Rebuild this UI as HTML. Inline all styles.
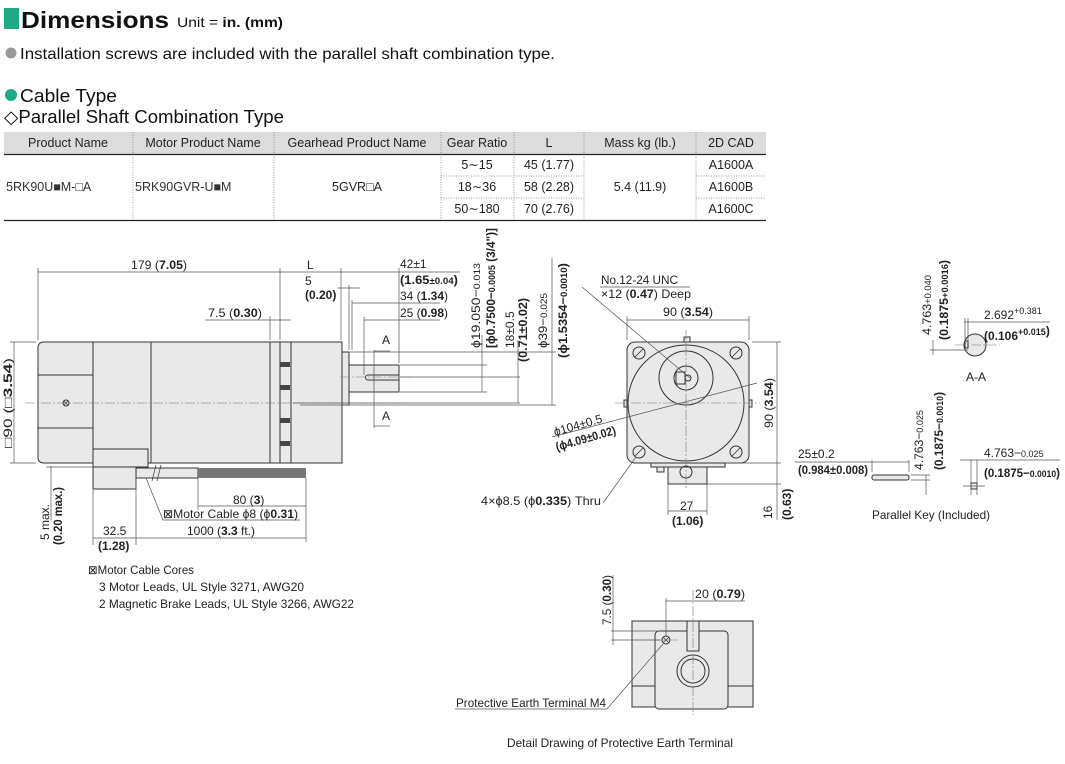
<!DOCTYPE html>
<html><head><meta charset="utf-8"><style>
html,body{margin:0;padding:0;background:#fff;}
svg{display:block;}
text{font-family:"Liberation Sans Narrow","Liberation Sans",sans-serif;fill:#222;}
.t{font-size:12px;}
.b{font-weight:bold;}
.tb{font-family:"Liberation Sans","DejaVu Sans",sans-serif;font-size:12.5px;fill:#333;}
.dim{stroke:#555;stroke-width:0.7;fill:none;}
.cl{stroke:#777;stroke-width:0.6;stroke-dasharray:10 2 2 2;fill:none;}
.o{stroke:#333;stroke-width:1;fill:#e9e9e9;}
.on{stroke:#333;stroke-width:1;fill:none;}
.dot{stroke:#777;stroke-width:0.7;stroke-dasharray:1 1.5;}
</style></head><body>
<svg width="1065" height="764" viewBox="0 0 1065 764" xmlns="http://www.w3.org/2000/svg">
<rect x="4" y="8" width="15" height="21" fill="#1faa87"/>
<text x="21" y="28" style="font-family:'Liberation Sans',sans-serif;font-size:23px;font-weight:bold;fill:#111" textLength="148" lengthAdjust="spacingAndGlyphs">Dimensions</text>
<text x="177" y="27" style="font-size:14px;fill:#111" textLength="106" lengthAdjust="spacingAndGlyphs">Unit = <tspan font-weight="bold">in. (mm)</tspan></text>
<circle cx="11" cy="53" r="5.5" fill="#999"/>
<text x="20" y="59" style="font-size:16px;fill:#111" textLength="535" lengthAdjust="spacingAndGlyphs">Installation screws are included with the parallel shaft combination type.</text>
<circle cx="11" cy="95" r="6" fill="#1faa87"/>
<text x="20" y="102" style="font-size:18px;fill:#111" textLength="97" lengthAdjust="spacingAndGlyphs">Cable Type</text>
<text x="4" y="123" style="font-size:18px;fill:#111" textLength="280" lengthAdjust="spacingAndGlyphs">◇Parallel Shaft Combination Type</text>
<rect x="4" y="132" width="762" height="22" fill="#dcdcdc"/>
<line x1="4" y1="154.5" x2="766" y2="154.5" stroke="#222" stroke-width="1.3"/>
<line x1="4" y1="220.5" x2="766" y2="220.5" stroke="#222" stroke-width="1.3"/>
<g class="dot">
<line x1="133" y1="132" x2="133" y2="220"/><line x1="274" y1="132" x2="274" y2="220"/>
<line x1="441" y1="132" x2="441" y2="220"/><line x1="514" y1="132" x2="514" y2="220"/>
<line x1="584" y1="132" x2="584" y2="220"/><line x1="696" y1="132" x2="696" y2="220"/>
<line x1="441" y1="176" x2="584" y2="176"/><line x1="441" y1="198" x2="584" y2="198"/>
<line x1="696" y1="176" x2="766" y2="176"/><line x1="696" y1="198" x2="766" y2="198"/>
</g>
<g class="tb" text-anchor="middle">
<text x="68" y="147">Product Name</text><text x="203" y="147">Motor Product Name</text>
<text x="357" y="147">Gearhead Product Name</text><text x="477" y="147">Gear Ratio</text>
<text x="549" y="147">L</text><text x="640" y="147">Mass kg (lb.)</text><text x="731" y="147">2D CAD</text>
<text x="477" y="169">5∼15</text><text x="477" y="191">18∼36</text><text x="477" y="213">50∼180</text>
<text x="549" y="169">45 (1.77)</text><text x="549" y="191">58 (2.28)</text><text x="549" y="213">70 (2.76)</text>
<text x="640" y="191">5.4 (11.9)</text><text x="357" y="191">5GVR□A</text>
<text x="731" y="169">A1600A</text><text x="731" y="191">A1600B</text><text x="731" y="213">A1600C</text>
</g>
<text class="tb" x="6" y="191">5RK90U■M-□A</text>
<text class="tb" x="135" y="191">5RK90GVR-U■M</text>

<path class="o" d="M44 342 H93 V463 H44 Q38 463 38 457 V348 Q38 342 44 342Z"/>
<rect class="o" x="93" y="342" width="177" height="121"/>
<line class="on" x1="151" y1="342" x2="151" y2="463"/>
<line class="on" x1="38" y1="375" x2="93" y2="375"/><line class="on" x1="38" y1="428" x2="93" y2="428"/>
<rect class="o" x="270" y="342" width="21" height="121"/><line class="on" x1="280" y1="342" x2="280" y2="463"/>
<rect x="280" y="362" width="10" height="5" fill="#444"/><rect x="280" y="385" width="10" height="5" fill="#444"/><rect x="280" y="418" width="10" height="5" fill="#444"/><rect x="280" y="441" width="10" height="5" fill="#444"/>
<rect class="o" x="291" y="342" width="51" height="121"/>
<rect class="o" x="342" y="352" width="7" height="53"/>
<rect class="o" x="349" y="365" width="50" height="27"/>
<path class="on" d="M368 375 H399 M368 380 H399 M368 375 A2.5 2.5 0 0 0 368 380"/>
<circle cx="66" cy="403" r="3" class="on"/><path d="M64 401 L68 405 M68 401 L64 405" stroke="#333" stroke-width="0.7"/>
<path class="o" d="M93 449 H148 V467 H93Z"/>
<rect class="o" x="93" y="467" width="43" height="22"/>
<rect class="o" x="136" y="468" width="62" height="10"/>
<rect x="198" y="468" width="108" height="10" fill="#777"/>
<path d="M156 465 L152 481 M161 465 L157 481" stroke="#333" stroke-width="0.7"/>
<line class="cl" x1="25" y1="403" x2="410" y2="403"/><line class="cl" x1="340" y1="377" x2="410" y2="377"/>
<g class="dim">
<line x1="38" y1="272" x2="399" y2="272"/><line x1="38" y1="268" x2="38" y2="340"/>
<line x1="280" y1="268" x2="280" y2="340"/><line x1="341" y1="268" x2="341" y2="340"/><line x1="399" y1="268" x2="399" y2="363"/>
<line x1="399" y1="272" x2="460" y2="272"/>
<line x1="338" y1="288" x2="360" y2="288"/><line x1="349" y1="285" x2="349" y2="350"/>
<line x1="352" y1="303" x2="440" y2="303"/><line x1="352" y1="300" x2="352" y2="350"/>
<line x1="364" y1="320" x2="440" y2="320"/><line x1="364" y1="317" x2="364" y2="375"/>
<line x1="205" y1="320" x2="291" y2="320"/><line x1="270" y1="316" x2="270" y2="340"/>
<line x1="374" y1="350" x2="374" y2="428"/><line x1="374" y1="351" x2="390" y2="351"/><line x1="374" y1="426" x2="390" y2="426"/>
<line x1="400" y1="365" x2="487" y2="365"/><line x1="400" y1="392" x2="487" y2="392"/><line x1="482" y1="335" x2="482" y2="392"/>
<line x1="400" y1="377" x2="520" y2="377"/><line x1="293" y1="403" x2="520" y2="403"/><line x1="518" y1="340" x2="518" y2="403"/>
<line x1="350" y1="352" x2="556" y2="352"/><line x1="300" y1="405" x2="556" y2="405"/><line x1="552" y1="258" x2="552" y2="405"/>
<line x1="14" y1="342" x2="14" y2="463"/><line x1="10" y1="342" x2="36" y2="342"/><line x1="10" y1="463" x2="36" y2="463"/>
<line x1="51" y1="466" x2="51" y2="520"/><line x1="46" y1="467" x2="93" y2="467"/>
<line x1="198" y1="506" x2="306" y2="506"/><line x1="198" y1="478" x2="198" y2="510"/><line x1="306" y1="478" x2="306" y2="542"/>
<line x1="136" y1="538" x2="306" y2="538"/><line x1="93" y1="538" x2="136" y2="538"/><line x1="93" y1="490" x2="93" y2="545"/><line x1="136" y1="478" x2="136" y2="545"/>
<line x1="146" y1="478" x2="163" y2="520"/><line x1="163" y1="520" x2="300" y2="520"/>
</g>
<g class="t">
<text x="131" y="269" textLength="56" lengthAdjust="spacingAndGlyphs">179 (<tspan class="b">7.05</tspan>)</text>
<text x="307" y="269">L</text>
<text x="305" y="285">5</text><text x="305" y="299" class="b">(0.20)</text>
<text x="400" y="268">42±1</text><text x="400" y="284" class="b" textLength="58" lengthAdjust="spacingAndGlyphs">(1.65<tspan style="font-size:9px">±0.04</tspan>)</text>
<text x="400" y="300" textLength="48" lengthAdjust="spacingAndGlyphs">34 (<tspan class="b">1.34</tspan>)</text>
<text x="400" y="317" textLength="48" lengthAdjust="spacingAndGlyphs">25 (<tspan class="b">0.98</tspan>)</text>
<text x="208" y="317" textLength="54" lengthAdjust="spacingAndGlyphs">7.5 (<tspan class="b">0.30</tspan>)</text>
<text x="382" y="344">A</text><text x="382" y="420">A</text>
<text x="233" y="504">80 (<tspan class="b">3</tspan>)</text>
<text x="163" y="518" textLength="135" lengthAdjust="spacingAndGlyphs">⊠Motor Cable ϕ8 (ϕ<tspan class="b">0.31</tspan>)</text>
<text x="187" y="535" textLength="68" lengthAdjust="spacingAndGlyphs">1000 (<tspan class="b">3.3</tspan> ft.)</text>
<text x="103" y="535">32.5</text><text x="98" y="550" class="b">(1.28)</text>
<text transform="translate(12 448) rotate(-90)" textLength="90" lengthAdjust="spacingAndGlyphs">□90 (<tspan class="b">□3.54</tspan>)</text>
<text transform="translate(49 540) rotate(-90)">5 max.</text>
<text transform="translate(62 545) rotate(-90)" class="b" textLength="58" lengthAdjust="spacingAndGlyphs">(0.20 max.)</text>
<text transform="translate(480 348) rotate(-90)" textLength="85" lengthAdjust="spacingAndGlyphs">ϕ19.050−<tspan style="font-size:9px">0.013</tspan></text>
<text transform="translate(495 348) rotate(-90)" class="b" textLength="120" lengthAdjust="spacingAndGlyphs">[ϕ0.7500−<tspan style="font-size:9px">0.0005</tspan> (3/4")]</text>
<text transform="translate(514 348) rotate(-90)">18±0.5</text>
<text transform="translate(527 362) rotate(-90)" class="b" textLength="64" lengthAdjust="spacingAndGlyphs">(0.71±0.02)</text>
<text transform="translate(547 348) rotate(-90)" textLength="55" lengthAdjust="spacingAndGlyphs">ϕ39−<tspan style="font-size:9px">0.025</tspan></text>
<text transform="translate(567 358) rotate(-90)" class="b" textLength="95" lengthAdjust="spacingAndGlyphs">(ϕ1.5354−<tspan style="font-size:9px">0.0010</tspan>)</text>
<text x="88" y="574" textLength="106" lengthAdjust="spacingAndGlyphs">⊠Motor Cable Cores</text>
<text x="99" y="591" textLength="205" lengthAdjust="spacingAndGlyphs">3 Motor Leads, UL Style 3271, AWG20</text>
<text x="99" y="608" textLength="255" lengthAdjust="spacingAndGlyphs">2 Magnetic Brake Leads, UL Style 3266, AWG22</text>
</g>

<rect class="o" x="627" y="342" width="122" height="121" rx="8"/>
<circle class="o" cx="686" cy="403" r="58"/>
<circle class="o" cx="686" cy="378" r="27"/>
<circle class="on" cx="686" cy="378" r="12"/><rect class="on" x="676" y="372" width="9" height="12"/>
<circle class="on" cx="688" cy="378" r="3"/>
<g class="on"><circle cx="639" cy="353" r="6"/><circle cx="736" cy="353" r="6"/><circle cx="639" cy="452" r="6"/><circle cx="736" cy="452" r="6"/></g>
<path d="M635 357 L643 349 M732 357 L740 349 M635 456 L643 448 M732 456 L740 448" stroke="#333" stroke-width="0.8"/>
<rect class="o" x="651" y="463" width="74" height="4"/>
<rect class="o" x="668" y="467" width="39" height="17"/><circle class="on" cx="686" cy="472" r="6"/>
<rect class="o" x="657" y="467" width="7" height="5"/>
<rect class="o" x="684" y="337" width="6" height="5"/><rect class="o" x="624" y="400" width="3" height="7"/><rect class="o" x="749" y="400" width="3" height="7"/>
<line class="cl" x1="615" y1="403" x2="760" y2="403"/><line class="cl" x1="686" y1="330" x2="686" y2="490"/>
<g class="dim">
<line x1="627" y1="320" x2="749" y2="320"/><line x1="627" y1="316" x2="627" y2="340"/><line x1="749" y1="316" x2="749" y2="340"/>
<line x1="777" y1="342" x2="777" y2="463"/><line x1="752" y1="342" x2="781" y2="342"/><line x1="726" y1="463" x2="781" y2="463"/>
<line x1="777" y1="463" x2="777" y2="520"/><line x1="707" y1="484" x2="781" y2="484"/>
<line x1="668" y1="484" x2="668" y2="515"/><line x1="707" y1="484" x2="707" y2="515"/><line x1="668" y1="511" x2="707" y2="511"/>
<line x1="582" y1="287" x2="690" y2="378"/><line x1="600" y1="287" x2="690" y2="287"/>
<line x1="552" y1="437" x2="757" y2="383"/>
<line x1="603" y1="503" x2="636" y2="457"/>
</g>
<g class="t">
<text x="601" y="284" textLength="77" lengthAdjust="spacingAndGlyphs">No.12-24 UNC</text>
<text x="601" y="298" textLength="90" lengthAdjust="spacingAndGlyphs">×12 (<tspan class="b">0.47</tspan>) Deep</text>
<text x="663" y="316" textLength="50" lengthAdjust="spacingAndGlyphs">90 (<tspan class="b">3.54</tspan>)</text>
<text transform="translate(773 428) rotate(-90)" textLength="50" lengthAdjust="spacingAndGlyphs">90 (<tspan class="b">3.54</tspan>)</text>
<text transform="translate(555 436) rotate(-16)">ϕ104±0.5</text>
<text transform="translate(557 451) rotate(-16)" class="b" textLength="62" lengthAdjust="spacingAndGlyphs">(ϕ4.09±0.02)</text>
<text x="481" y="505" textLength="120" lengthAdjust="spacingAndGlyphs">4×ϕ8.5 (ϕ<tspan class="b">0.335</tspan>) Thru</text>
<text x="680" y="510">27</text><text x="672" y="525" class="b">(1.06)</text>
<text transform="translate(772 519) rotate(-90)">16</text>
<text transform="translate(791 520) rotate(-90)" class="b">(0.63)</text>
</g>

<circle class="o" cx="975" cy="345" r="11"/><rect class="o" x="965" y="341" width="3" height="7"/>
<line class="cl" x1="955" y1="345" x2="1000" y2="345"/>
<g class="dim"><line x1="933" y1="340" x2="933" y2="355"/><line x1="930" y1="350" x2="968" y2="350"/><line x1="964" y1="322" x2="1050" y2="322"/><line x1="965" y1="318" x2="965" y2="342"/><line x1="968" y1="318" x2="968" y2="342"/></g>
<g class="t">
<text transform="translate(931 335) rotate(-90)" textLength="60" lengthAdjust="spacingAndGlyphs">4.763<tspan style="font-size:9px">+0.040</tspan></text>
<text transform="translate(948 340) rotate(-90)" class="b" textLength="80" lengthAdjust="spacingAndGlyphs">(0.1875<tspan style="font-size:9px">+0.0016</tspan>)</text>
<text x="984" y="319">2.692<tspan style="font-size:9px" dy="-5">+0.381</tspan></text>
<text x="984" y="340" class="b">(0.106<tspan style="font-size:9px" dy="-5">+0.015</tspan>)</text>
<text x="966" y="381">A-A</text>
</g>
<rect class="o" x="872" y="475" width="37" height="5" rx="2"/>
<rect class="o" x="971" y="483" width="6" height="6"/>
<g class="dim"><line x1="872" y1="460" x2="872" y2="472"/><line x1="909" y1="460" x2="909" y2="472"/><line x1="872" y1="462" x2="909" y2="462"/><line x1="795" y1="462" x2="872" y2="462"/>
<line x1="926" y1="475" x2="926" y2="495"/><line x1="911" y1="475" x2="930" y2="475"/><line x1="911" y1="480" x2="930" y2="480"/>
<line x1="971" y1="460" x2="971" y2="495"/><line x1="977" y1="460" x2="977" y2="495"/><line x1="963" y1="486" x2="985" y2="486"/><line x1="960" y1="460" x2="1060" y2="460"/></g>
<g class="t">
<text x="798" y="458">25±0.2</text>
<text x="798" y="474" class="b" textLength="70" lengthAdjust="spacingAndGlyphs">(0.984±0.008)</text>
<text transform="translate(923 470) rotate(-90)" textLength="60" lengthAdjust="spacingAndGlyphs">4.763−<tspan style="font-size:9px">0.025</tspan></text>
<text transform="translate(943 470) rotate(-90)" class="b" textLength="78" lengthAdjust="spacingAndGlyphs">(0.1875−<tspan style="font-size:9px">0.0010</tspan>)</text>
<text x="984" y="457">4.763−<tspan style="font-size:9px">0.025</tspan></text>
<text x="984" y="477" class="b" textLength="76" lengthAdjust="spacingAndGlyphs">(0.1875−<tspan style="font-size:9px">0.0010</tspan>)</text>
<text x="872" y="519" textLength="118" lengthAdjust="spacingAndGlyphs">Parallel Key (Included)</text>
</g>

<rect class="o" x="632" y="621" width="121" height="86"/>
<line class="on" x1="632" y1="686" x2="753" y2="686"/>
<rect class="o" x="655" y="631" width="73" height="78" rx="4"/>
<rect class="o" x="687" y="621" width="12" height="30"/>
<circle class="o" cx="693" cy="671" r="16"/><circle class="on" cx="693" cy="671" r="12"/>
<circle class="on" cx="666" cy="640" r="4"/><path d="M663 637 L669 643 M669 637 L663 643" stroke="#333" stroke-width="0.7"/>
<line class="cl" x1="693" y1="590" x2="693" y2="715"/><line class="cl" x1="655" y1="640" x2="678" y2="640"/>
<g class="dim"><line x1="611" y1="631" x2="660" y2="631"/><line x1="611" y1="640" x2="660" y2="640"/><line x1="613" y1="575" x2="613" y2="645"/>
<line x1="666" y1="598" x2="666" y2="636"/><line x1="666" y1="601" x2="745" y2="601"/>
<line x1="455" y1="709" x2="607" y2="709"/><line x1="607" y1="709" x2="663" y2="644"/></g>
<g class="t">
<text transform="translate(611 625) rotate(-90)" textLength="50" lengthAdjust="spacingAndGlyphs">7.5 (<tspan class="b">0.30</tspan>)</text>
<text x="695" y="598" textLength="50" lengthAdjust="spacingAndGlyphs">20 (<tspan class="b">0.79</tspan>)</text>
<text x="456" y="707" textLength="150" lengthAdjust="spacingAndGlyphs">Protective Earth Terminal M4</text>
<text x="507" y="747" textLength="226" lengthAdjust="spacingAndGlyphs">Detail Drawing of Protective Earth Terminal</text>
</g>
</svg>
</body></html>
